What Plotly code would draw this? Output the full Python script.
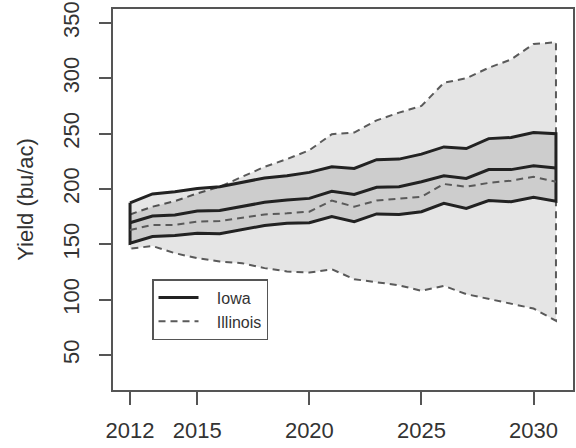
import plotly.graph_objects as go

years = list(range(2012, 2032))

iowa_upper = [187.5, 195.5, 197.5, 200.5, 202, 206, 210, 212, 215, 220, 218.5, 226.5, 227, 231.5, 238, 236.5, 245.5, 246.5, 251, 250]
iowa_mid   = [169.5, 175.5, 176.5, 180, 180.5, 184, 188, 190, 191.5, 198, 195, 201.5, 202, 206.5, 212, 209.5, 217.5, 217.5, 221, 219]
iowa_lower = [151, 157, 158, 160, 159.5, 163, 167, 169, 169.5, 175, 170.5, 177.5, 177, 179.5, 187, 182.5, 189.5, 188.5, 192.5, 189]

ill_upper = [177, 184, 189, 196, 202, 211, 220, 227, 235, 249.5, 251, 262, 269, 275, 296, 300, 309.5, 317, 331, 332.5]
ill_mid   = [163, 167.5, 167.5, 170.5, 171, 174, 177, 178, 179.5, 189.5, 184, 189.5, 191.5, 193, 204.5, 202, 205.5, 207.5, 211, 206.5]
ill_lower = [146, 148.5, 142, 137.5, 134.5, 133, 128.5, 125.5, 124.5, 127.5, 118.5, 116, 113, 108, 112.5, 105, 101, 96.5, 92, 81]

x_ticks = [2012, 2015, 2020, 2025, 2030]
y_ticks = [50, 100, 150, 200, 250, 300, 350]

FONT = "Liberation Sans, Arial, sans-serif"
TXT = "#333333"
PAD = "\u00a0\u00a0\u00a0"

fig = go.Figure()

# Illinois band
fig.add_trace(go.Scatter(
    x=years + years[::-1] + [years[0]],
    y=ill_upper + ill_lower[::-1] + [ill_upper[0]],
    mode="lines", fill="toself", fillcolor="rgba(0,0,0,0.10)",
    line=dict(color="#5a5a5a", width=2, dash="7px,5px"),
    showlegend=False, hoverinfo="skip"))

# Iowa band
fig.add_trace(go.Scatter(
    x=years + years[::-1] + [years[0]],
    y=iowa_upper + iowa_lower[::-1] + [iowa_upper[0]],
    mode="lines", fill="toself", fillcolor="rgba(0,0,0,0.10)",
    line=dict(color="#222222", width=3),
    showlegend=False, hoverinfo="skip"))

# Illinois middle
fig.add_trace(go.Scatter(
    x=years, y=ill_mid, mode="lines", name=PAD + "Illinois",
    line=dict(color="#5a5a5a", width=2, dash="7px,5px")))

# Iowa middle
fig.add_trace(go.Scatter(
    x=years, y=iowa_mid, mode="lines", name=PAD + "Iowa",
    line=dict(color="#222222", width=3)))

fig.update_layout(
    width=576, height=448,
    margin=dict(l=113, r=3, t=9, b=58, autoexpand=False),
    paper_bgcolor="white", plot_bgcolor="white",
    font=dict(family=FONT, size=22, color=TXT),
    legend=dict(
        x=0.0848, y=0.291, xanchor="left", yanchor="top",
        bgcolor="white", bordercolor="#555555", borderwidth=1.5,
        font=dict(size=16, color=TXT),
        traceorder="reversed",
        itemwidth=40,
    ),
    xaxis=dict(
        range=[2011.24, 2031.76], tickvals=x_ticks, ticktext=[str(v) for v in x_ticks],
        showgrid=False, zeroline=False,
        showline=True, linecolor="#555555", linewidth=1.5, mirror=True,
        ticks="outside", ticklen=13, tickwidth=1.5, tickcolor="#555555",
        tickfont=dict(size=22, color=TXT),
        ticklabelstandoff=7,
    ),
    yaxis=dict(
        range=[18.4, 362.6], tickvals=y_ticks, ticktext=[str(v) for v in y_ticks],
        tickangle=-90,
        showgrid=False, zeroline=False,
        showline=True, linecolor="#555555", linewidth=1.5, mirror=True,
        ticks="outside", ticklen=12, tickwidth=1.5, tickcolor="#555555",
        tickfont=dict(size=22, color=TXT),
        ticklabelstandoff=11,
        title=dict(text="Yield (bu/ac)", font=dict(size=22, color=TXT), standoff=20),
    ),
)

fig.write_html("out.html", config={"displayModeBar": False},
               post_script="document.body.style.margin='0';")
